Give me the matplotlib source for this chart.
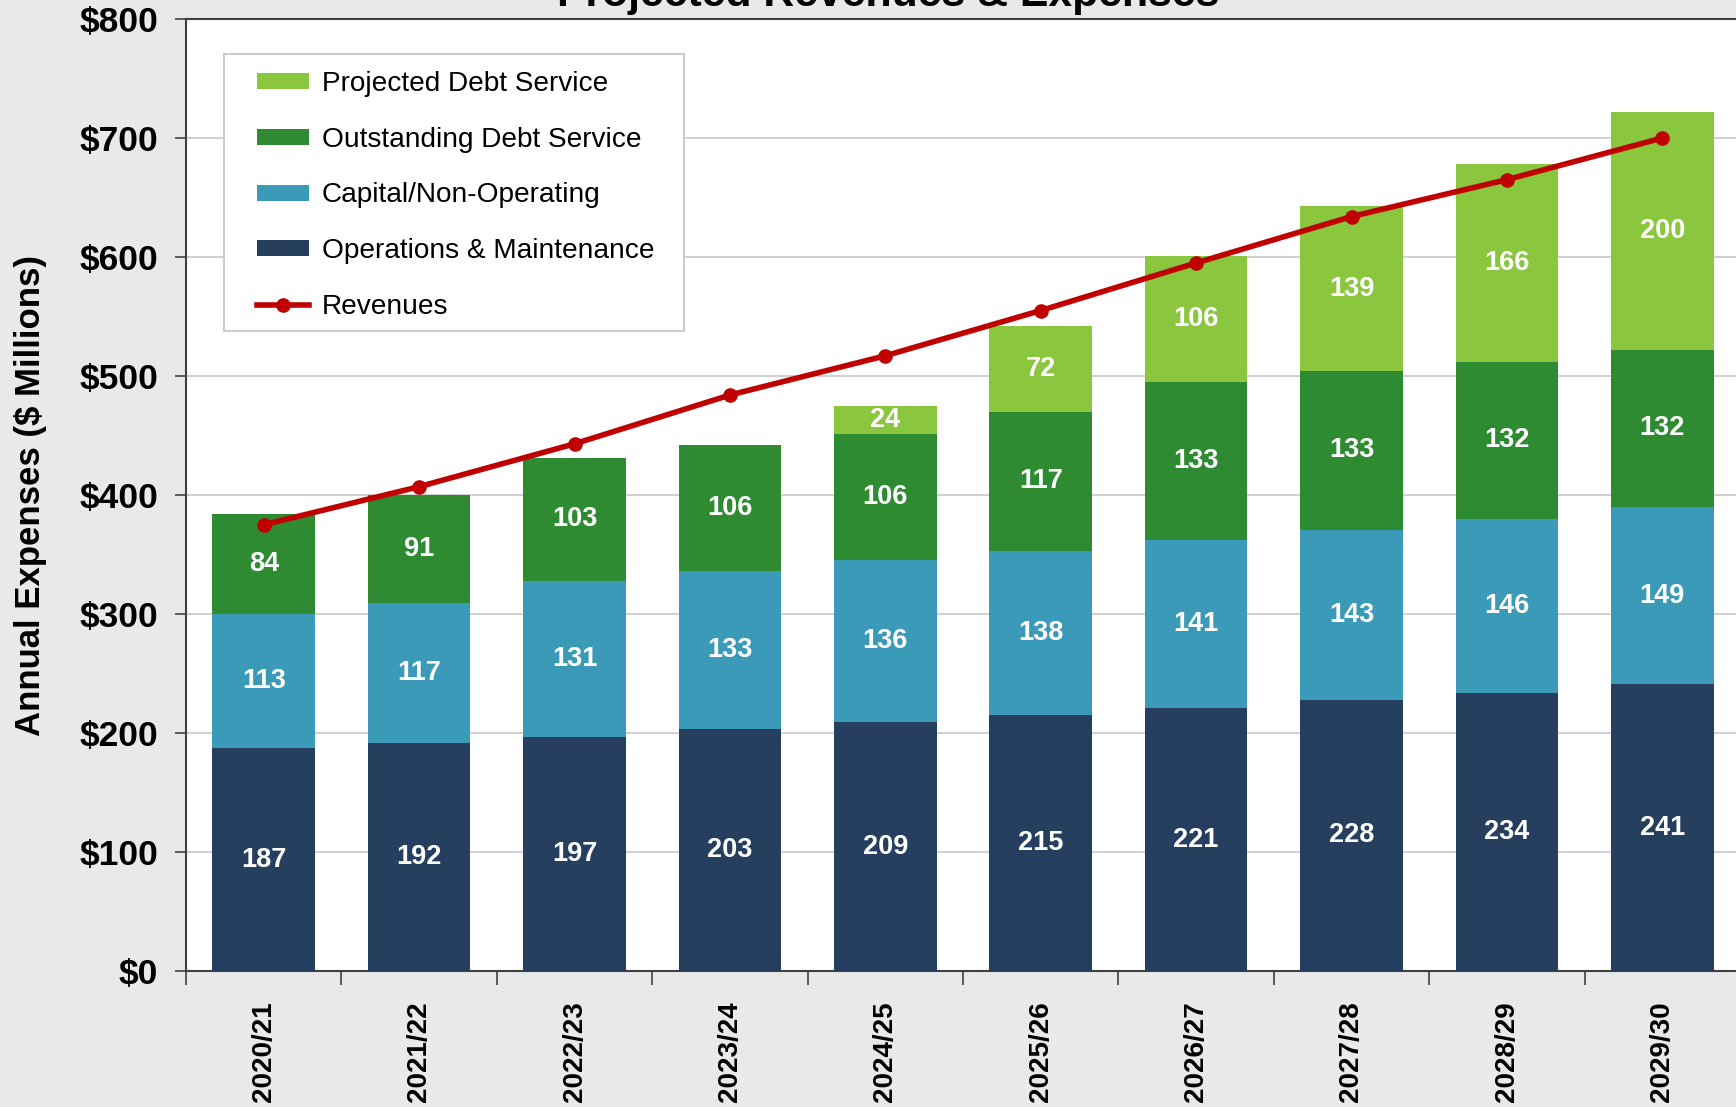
"""
Projected Revenues & Expenses -- stacked bars with a revenue line.
Output: out.png (1736 x 1107)
"""
import numpy as np
import matplotlib
matplotlib.use('Agg')
import matplotlib.pyplot as plt
from matplotlib.patches import Rectangle
from matplotlib.ticker import FuncFormatter, FixedLocator

plt.rcParams['font.family'] = ['Liberation Sans', 'DejaVu Sans']

# ─────────────────────────────────────────────────────────
# Data ($ millions)
# ─────────────────────────────────────────────────────────
YEARS = ['2020/21', '2021/22', '2022/23', '2023/24', '2024/25',
         '2025/26', '2026/27', '2027/28', '2028/29', '2029/30']
OM = [187, 192, 197, 203, 209, 215, 221, 228, 234, 241]
CAPITAL = [113, 117, 131, 133, 136, 138, 141, 143, 146, 149]
OUTSTANDING = [84, 91, 103, 106, 106, 117, 133, 133, 132, 132]
PROJECTED = [0, 0, 0, 0, 24, 72, 106, 139, 166, 200]
REVENUES = [375, 407, 443, 484, 517, 555, 595, 634, 665, 700]

SERIES = [
    ('Operations & Maintenance', OM, '#263F5E'),
    ('Capital/Non-Operating', CAPITAL, '#3A9AB8'),
    ('Outstanding Debt Service', OUTSTANDING, '#2E8B32'),
    ('Projected Debt Service', PROJECTED, '#8AC73E'),
]
RED = '#C00000'
BG = '#E9E9E9'

W, H, DPI = 1736, 1107, 100


def main():
    fig = plt.figure(figsize=(W / DPI, H / DPI), dpi=DPI, facecolor=BG)
    ax = fig.add_axes([186 / W, 1 - 971 / H, 1554 / W, 952 / H])
    ax.set_facecolor('white')

    x = np.arange(len(YEARS))
    bottom = np.zeros(len(YEARS))
    handles = {}
    for label, vals, color in SERIES:
        vals = np.array(vals, dtype=float)
        bars = ax.bar(x, vals, width=0.66, bottom=bottom, color=color,
                      label=label, zorder=3)
        handles[label] = bars
        for xi, b, v in zip(x, bottom, vals):
            if v > 0:
                ax.text(xi, b + v / 2, f'{v:.0f}', ha='center', va='center',
                        color='white', fontsize=19.5, fontweight='bold',
                        zorder=4)
        bottom += vals

    line, = ax.plot(x, REVENUES, color=RED, lw=4, marker='o',
                    markersize=9.5, zorder=5, label='Revenues')

    # axes styling
    ax.set_xlim(-0.5, len(YEARS) - 0.5)
    ax.set_ylim(0, 800)
    ax.yaxis.set_major_locator(FixedLocator(np.arange(0, 801, 100)))
    ax.yaxis.set_major_formatter(FuncFormatter(lambda v, _: f'${v:.0f}'))
    ax.grid(axis='y', color='#C8C8C8', lw=1.2, zorder=0)
    ax.set_axisbelow(True)
    ax.tick_params(axis='y', direction='out', length=8, width=1.2,
                   pad=12, labelsize=25.5, color='#404040')
    for t in ax.get_yticklabels():
        t.set_fontweight('bold')

    ax.set_xticks(x)
    ax.set_xticklabels(YEARS, rotation=90, fontsize=20, fontweight='bold')
    ax.tick_params(axis='x', which='major', length=0, pad=22)
    ax.set_xticks(np.arange(-0.5, len(YEARS), 1.0), minor=True)
    ax.tick_params(axis='x', which='minor', direction='out', length=10,
                   width=1.2, color='#404040')

    for side in ('left', 'bottom', 'top'):
        ax.spines[side].set_color('#404040')
        ax.spines[side].set_linewidth(1.5)
    ax.spines['right'].set_visible(False)

    ax.set_ylabel('Annual Expenses ($ Millions)', fontsize=25,
                  fontweight='bold', va='center')
    ax.yaxis.set_label_coords(-0.1, 0.5)

    fig.text(888 / W, 1 - 6 / H, 'Projected Revenues & Expenses',
             ha='center', va='baseline', fontsize=30.8, fontweight='bold')

    # legend: entries without frame, box drawn separately behind them
    box = Rectangle((224 / W, 1 - 331 / H), 460 / W, 277 / H,
                    transform=fig.transFigure, facecolor='white',
                    edgecolor='#CCCCCC', lw=1.5, zorder=5.5, clip_on=False)
    ax.add_patch(box)
    order = ['Projected Debt Service', 'Outstanding Debt Service',
             'Capital/Non-Operating', 'Operations & Maintenance']
    leg = ax.legend([handles[k] for k in order] + [line], order + ['Revenues'],
                    loc='upper left', bbox_to_anchor=(257 / W, 1 - 71 / H),
                    bbox_transform=fig.transFigure, fontsize=20.2,
                    frameon=False, handlelength=1.85,
                    handleheight=0.5, labelspacing=1.06, borderpad=0,
                    handletextpad=0.45, borderaxespad=0)
    leg.set_zorder(6)

    fig.savefig('out.png', dpi=DPI, facecolor=BG)
    plt.close(fig)


if __name__ == '__main__':
    main()
